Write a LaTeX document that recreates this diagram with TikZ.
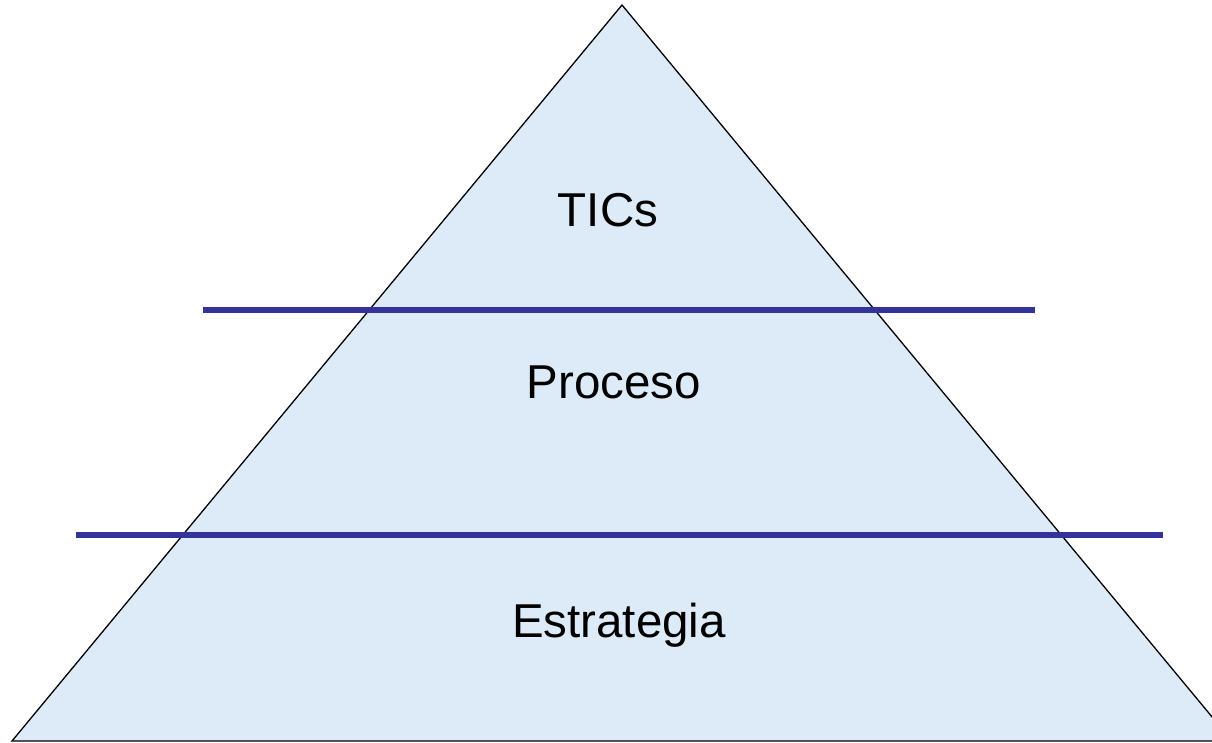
\documentclass[tikz,border=0pt]{standalone}
\usepackage{fontspec}
\setmainfont{Liberation Sans}
\usetikzlibrary{positioning}
\definecolor{pyrfill}{RGB}{221,234,247}
\definecolor{barblue}{RGB}{51,51,153}
\tikzset{%
  pyramid/.style  = {draw=black, line width=1.3pt, fill=pyrfill},%
  divider/.style  = {draw=barblue, line width=6pt},%
  tier/.style     = {font=\fontsize{47.5}{50}\selectfont, inner sep=0pt, anchor=base}%
}
\begin{document}
\begin{tikzpicture}[x=1pt, y=-1pt]
  \useasboundingbox (0,0) rectangle (1212,743);
  \clip (0,0) rectangle (1212,743);
  \coordinate (apex)  at (622,5);
  \coordinate (baseL) at (12,741);
  \coordinate (baseR) at (1232,741);
  \path[pyramid] (apex) -- (baseL) -- (baseR) -- cycle;
  % separators between the tiers
  \coordinate (topL) at (203,310);
  \coordinate (topR) at (1035,310);
  \coordinate (lowL) at (76,535);
  \coordinate (lowR) at (1163,535);
  \draw[divider] (topL) -- (topR);
  \draw[divider] (lowL) -- (lowR);
  \node[tier] (tics)       at (608,227) {TICs};
  \node[tier] (proceso)    at (614,398) {Proceso};
  \node[tier] (estrategia) at (619,637) {Estrategia};
\end{tikzpicture}
\end{document}
